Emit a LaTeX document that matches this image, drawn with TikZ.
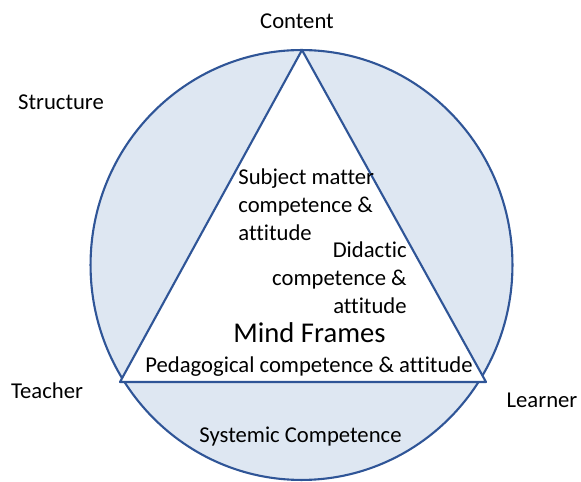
\documentclass[tikz,border=0pt]{standalone}
\usepackage{fontspec}
\setmainfont{Carlito}[Ligatures=NoCommon]
\definecolor{ringfill}{HTML}{DEE7F2}
\definecolor{ringline}{HTML}{2F5597}

\begin{document}
\begin{tikzpicture}[x=0.02cm,y=-0.02cm,
  ring/.style={draw=ringline,line width=1.2pt,fill=ringfill},
  tri/.style={draw=ringline,line width=1.2pt,fill=white,line join=round},
  lbl/.style={inner sep=0,font=\fontsize{12.9}{16}\selectfont},
  big/.style={inner sep=0,font=\fontsize{16.3}{19}\selectfont}]
\useasboundingbox (0,0) rectangle (581,482);

\draw [ring] (301.5,265) ellipse [x radius=4.22cm, y radius=4.3cm];

\coordinate (content) at (302,50);
\coordinate (teacher) at (120,382);
\coordinate (learner) at (486,382);
\draw [tri] (content) -- (teacher) -- (learner) -- cycle;

\node [lbl] (contentlbl) at (297,21) {Content};
\node [lbl] (structurelbl) at (61,102) {Structure};
\node [lbl] (teacherlbl) at (47,391) {Teacher};
\node [lbl] (learnerlbl) at (542,400) {Learner};
\node [lbl] (systemic) at (300.5,437) {Systemic Competence};

\node [lbl,anchor=west,align=left] (subject) at (238,205)
  {Subject matter\\competence \&\\attitude};
\node [lbl,anchor=east,align=right] (didactic) at (407,278)
  {Didactic\\competence \&\\attitude};
\node [big] (mind) at (309.5,333) {Mind Frames};
\node [lbl] (pedagogical) at (309,367) {Pedagogical competence \& attitude};
\end{tikzpicture}
\end{document}
